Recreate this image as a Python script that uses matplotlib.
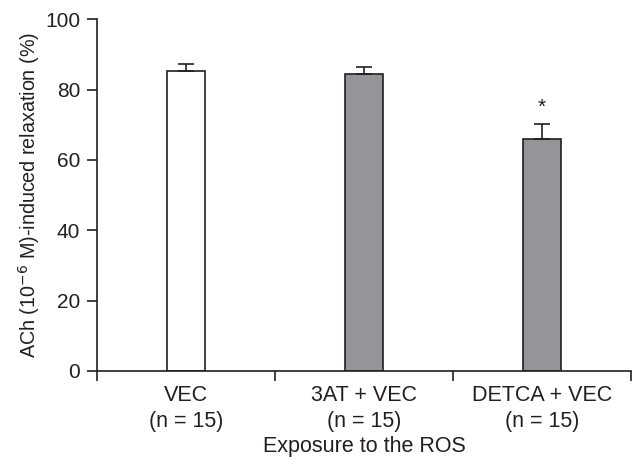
import matplotlib
matplotlib.use("Agg")
import matplotlib.pyplot as plt
import numpy as np

plt.rcParams['font.family'] = ['Liberation Sans', 'DejaVu Sans']

categories = ["VEC\n(n = 15)", "3AT + VEC\n(n = 15)", "DETCA + VEC\n(n = 15)"]
values = [85.4, 84.5, 66.0]
errors = [1.9, 2.0, 4.1]
colors = ["#ffffff", "#939598", "#939598"]
sig = ["", "", "*"]
yticks = [0, 20, 40, 60, 80, 100]

ink = "#231f20"
fig = plt.figure(figsize=(6.32, 4.57), dpi=100)
ax = fig.add_axes([97/632, 1-371/457, (631-97)/632, (371-19.3)/457])

x = np.arange(len(categories))
ax.bar(x, values, width=0.2135, color=colors, edgecolor=ink, linewidth=1.2, zorder=2)
ax.errorbar(x, values, yerr=[np.zeros(len(errors)), errors], fmt='none', ecolor=ink,
            elinewidth=1.2, capsize=6, capthick=1.2, zorder=3)
for xi, v, e, s in zip(x, values, errors, sig):
    if s:
        ax.text(xi, v + e + 5.0, s, ha='center', va='center', fontsize=15, color=ink)

ax.set_xlim(-0.5, len(categories) - 0.5)
ax.set_ylim(0, 100)
ax.set_yticks(yticks)
ax.set_xticks(np.arange(len(categories) + 1) - 0.5)
ax.set_xticklabels([])
ax.set_xticks(x, minor=True)
ax.set_xticklabels(categories, minor=True, fontsize=15.5, color=ink, linespacing=1.3)
ax.tick_params(axis='x', which='minor', length=0, pad=10)
ax.tick_params(axis='x', which='major', length=7, width=1.2, color=ink, direction='out')
ax.tick_params(axis='y', length=7, width=1.2, color=ink, direction='out', labelsize=15,
               labelcolor=ink, pad=5)

for side in ['top', 'right']:
    ax.spines[side].set_visible(False)
for side in ['left', 'bottom']:
    ax.spines[side].set_linewidth(1.2)
    ax.spines[side].set_color(ink)

ax.set_xlabel("Exposure to the ROS", fontsize=15.5, color=ink, labelpad=3)
ax.set_ylabel("ACh (10$^{-6}$ M)-induced relaxation (%)", fontsize=14.2, color=ink, labelpad=2)

fig.savefig("out.png", dpi=100)
